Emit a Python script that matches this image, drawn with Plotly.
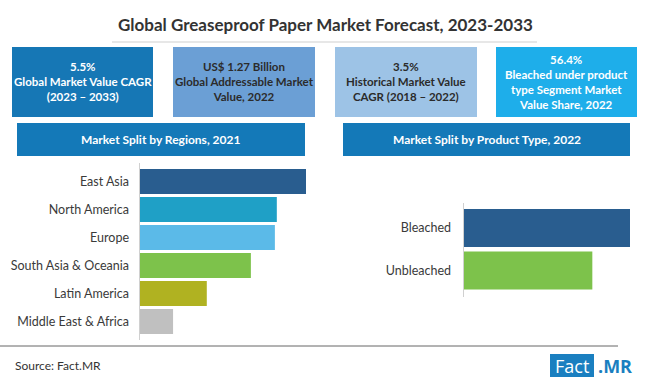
import plotly.graph_objects as go

W, H = 650, 385

title_text = "Global Greaseproof Paper Market Forecast, 2023-2033"

# KPI boxes
kpi_texts = [
    "5.5%<br>Global Market Value CAGR<br>(2023 – 2033)",
    "US$ 1.27 Billion<br>Global Addressable Market<br>Value, 2022",
    "3.5%<br>Historical Market Value<br>CAGR (2018 – 2022)",
    "56.4%<br>Bleached under product<br>type Segment Market<br>Value Share, 2022",
]
kpi_fill = ["#1677b5", "#6b9fd5", "#9dc3e6", "#1eaeea"]
kpi_font = ["#ffffff", "#2b2b2b", "#2b2b2b", "#ffffff"]

header_texts = ["Market Split by Regions, 2021", "Market Split by Product Type, 2022"]

# Regions (estimated shares, %)
regions = ["East Asia", "North America", "Europe", "South Asia & Oceania",
           "Latin America", "Middle East & Africa"]
region_share = [25.6, 21.1, 20.8, 17.1, 10.3, 5.1]
region_colors = ["#295d8f", "#1fa0c6", "#5bbae8", "#7dc24b", "#b0b221", "#c0c0c0"]

# Product types (%)
products = ["Bleached", "Unbleached"]
product_share = [56.4, 43.6]
product_colors = ["#295d8f", "#7dc24b"]

source_text = "Source: Fact.MR"


def px(x):
    return x / W


def py(y):
    return 1 - y / H


fig = go.Figure()

fig.add_trace(go.Bar(
    y=regions, x=region_share, orientation="h",
    marker=dict(color=region_colors, line=dict(width=0)),
    xaxis="x", yaxis="y", hoverinfo="x+y", showlegend=False,
))
fig.add_trace(go.Bar(
    y=products, x=product_share, orientation="h",
    marker=dict(color=product_colors, line=dict(width=0)),
    xaxis="x2", yaxis="y2", hoverinfo="x+y", showlegend=False,
))

label_font = dict(family="Lato, Noto Sans, sans-serif", size=12.5, color="#3a3a3a")

fig.update_layout(
    width=W, height=H,
    margin=dict(l=0, r=0, t=0, b=0),
    paper_bgcolor="white", plot_bgcolor="white",
    bargap=0.11,
    xaxis=dict(domain=[px(140), px(320)], range=[0, 25.6 * 180 / 166],
               visible=False, fixedrange=True),
    yaxis=dict(domain=[py(335.5), py(167.5)], autorange="reversed",
               showgrid=False, zeroline=False, showline=False, ticks="",
               tickfont=label_font, ticklabelstandoff=10, anchor="x"),
    xaxis2=dict(domain=[px(464), px(640)], range=[0, 56.4 * 176 / 166],
                visible=False, fixedrange=True, anchor="y2"),
    yaxis2=dict(domain=[py(291.75), py(206.75)], autorange="reversed",
                showgrid=False, zeroline=False, showline=False, ticks="",
                tickfont=label_font, ticklabelstandoff=12, anchor="x2"),
)

shapes = []
annotations = []

# title and separator
annotations.append(dict(x=px(325), y=py(24), xref="paper", yref="paper",
                        text="<b>" + title_text + "</b>", showarrow=False,
                        xanchor="center", yanchor="middle",
                        font=dict(family="Lato, sans-serif", size=17, color="#333333")))
shapes.append(dict(type="line", xref="paper", yref="paper",
                   x0=px(112), x1=px(537), y0=py(42), y1=py(42),
                   line=dict(color="#cfcfcf", width=1)))

# KPI boxes
box_x = [(12, 153), (173, 315), (335, 477), (496, 637)]
for (x0, x1), t, c, fc in zip(box_x, kpi_texts, kpi_fill, kpi_font):
    shapes.append(dict(type="rect", xref="paper", yref="paper",
                       x0=px(x0), x1=px(x1), y0=py(117), y1=py(47),
                       fillcolor=c, line=dict(width=0), layer="below"))
    annotations.append(dict(x=px((x0 + x1) / 2), y=py(82), xref="paper", yref="paper",
                            text="<b>" + t + "</b>", showarrow=False,
                            xanchor="center", yanchor="middle", align="center",
                            font=dict(family="Lato, sans-serif", size=11.5, color=fc)))

# section headers
hdr_x = [(17, 305), (343, 630)]
for (x0, x1), t in zip(hdr_x, header_texts):
    shapes.append(dict(type="rect", xref="paper", yref="paper",
                       x0=px(x0), x1=px(x1), y0=py(156), y1=py(123),
                       fillcolor="#1479b8", line=dict(width=0), layer="below"))
    annotations.append(dict(x=px((x0 + x1) / 2), y=py(139.5), xref="paper", yref="paper",
                            text="<b>" + t + "</b>", showarrow=False,
                            xanchor="center", yanchor="middle",
                            font=dict(family="Lato, sans-serif", size=12, color="white")))

# axis lines
shapes.append(dict(type="line", xref="paper", yref="paper",
                   x0=px(139.5), x1=px(139.5), y0=py(340), y1=py(163),
                   line=dict(color="#d0d0d0", width=1)))
shapes.append(dict(type="line", xref="paper", yref="paper",
                   x0=px(463.5), x1=px(463.5), y0=py(297), y1=py(203),
                   line=dict(color="#d0d0d0", width=1)))

# bottom rule
shapes.append(dict(type="line", xref="paper", yref="paper",
                   x0=0, x1=px(618), y0=py(346), y1=py(346),
                   line=dict(color="#666666", width=1)))

annotations.append(dict(x=px(13), y=py(365), xref="paper", yref="paper",
                        text=source_text, showarrow=False,
                        xanchor="left", yanchor="middle",
                        font=dict(family="Lato, sans-serif", size=12, color="#333333")))

# logo
shapes.append(dict(type="rect", xref="paper", yref="paper",
                   x0=px(550), x1=px(594), y0=py(377), y1=py(354),
                   fillcolor="#1a7fc0", line=dict(width=0)))
annotations.append(dict(x=px(572), y=py(365.5), xref="paper", yref="paper",
                        text="Fact", showarrow=False, xanchor="center", yanchor="middle",
                        font=dict(family="Open Sans, sans-serif", size=18, color="white")))
annotations.append(dict(x=px(596), y=py(365.5), xref="paper", yref="paper",
                        text="<b>.MR</b>", showarrow=False, xanchor="left", yanchor="middle",
                        font=dict(family="Open Sans, sans-serif", size=18, color="#1a7fc0")))

fig.update_layout(shapes=shapes, annotations=annotations)

fig.write_html(
    "out.html",
    config={"displayModeBar": False},
    post_script="document.body.style.margin='0';document.body.style.overflow='hidden';",
)
